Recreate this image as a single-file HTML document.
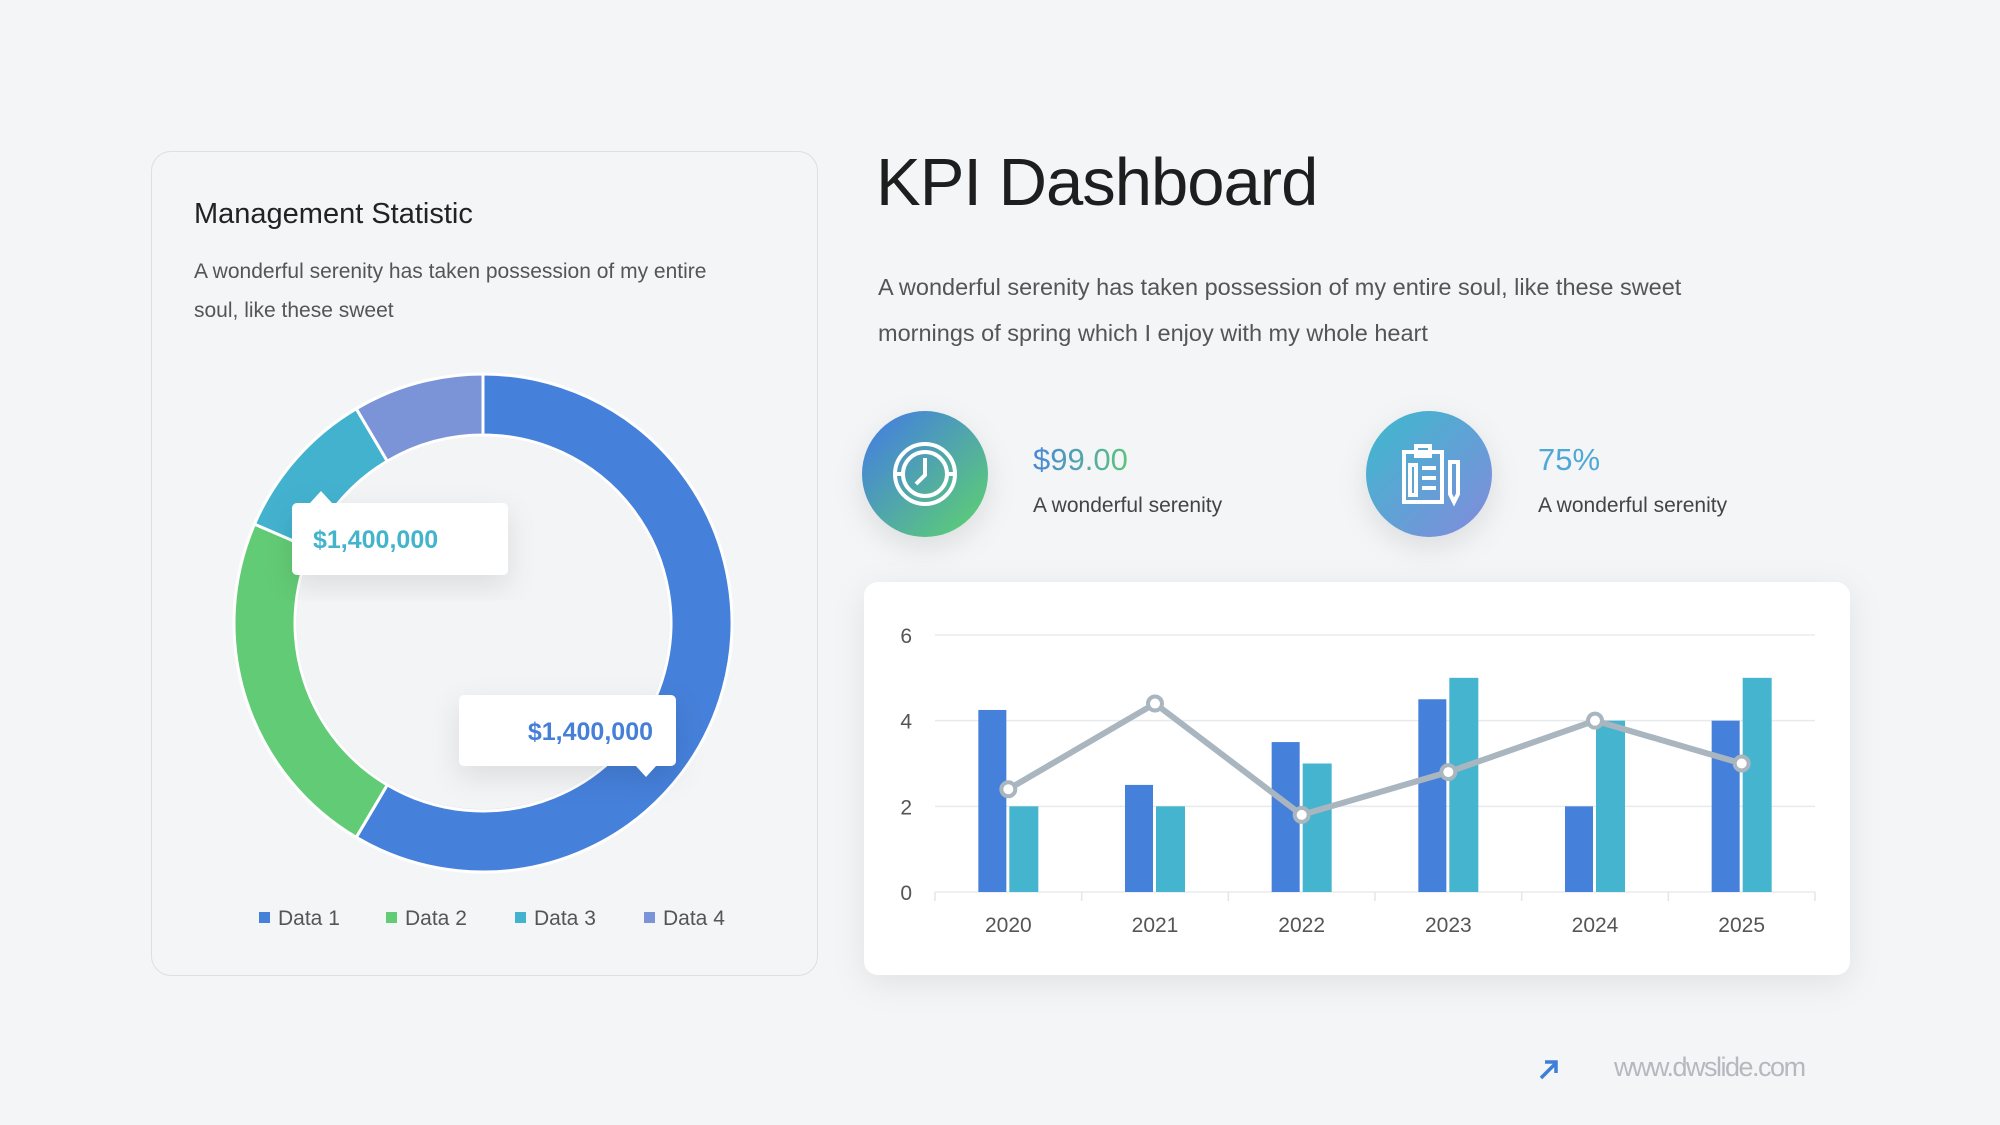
<!DOCTYPE html>
<html><head><meta charset="utf-8"><style>
html,body{margin:0;padding:0;background:#f3f5f7;}
body{width:2000px;height:1125px;overflow:hidden;position:relative;font-family:"Liberation Sans",sans-serif;}
.abs{position:absolute;}
</style></head><body>
<div class="abs" style="left:151px;top:151px;width:665px;height:823px;border:1.5px solid #dcdfe3;border-radius:20px;"></div>
<div class="abs" style="left:194px;top:198px;font-size:29px;color:#222;">Management Statistic</div>
<div class="abs" style="left:194px;top:252px;width:555px;font-size:21px;line-height:39px;color:#555;">A wonderful serenity has taken possession of my entire soul, like these sweet</div>
<div class="abs" style="left:876px;top:144px;font-size:67px;letter-spacing:-1px;color:#1e1e1e;">KPI Dashboard</div>
<div class="abs" style="left:878px;top:264px;width:880px;font-size:23.5px;line-height:46px;color:#555;">A wonderful serenity has taken possession of my entire soul, like these sweet mornings of spring which I enjoy with my whole heart</div>
<div class="abs" style="left:1033px;top:442px;font-size:31px;background:linear-gradient(90deg,#4a86d8,#5cc47c);-webkit-background-clip:text;color:transparent;">$99.00</div>
<div class="abs" style="left:1033px;top:494px;font-size:21px;color:#444;">A wonderful serenity</div>
<div class="abs" style="left:1538px;top:442px;font-size:31px;color:#4fa8d6;">75%</div>
<div class="abs" style="left:1538px;top:494px;font-size:21px;color:#444;">A wonderful serenity</div>
<div class="abs" style="left:1614px;top:1052px;font-size:27px;letter-spacing:-1.5px;color:#b5b9bf;">www.dwslide.com</div>

<svg class="abs" style="left:0;top:0" width="2000" height="1125" id="svg">
<defs>
<linearGradient id="g1" x1="0" y1="0" x2="1" y2="1"><stop offset="0.1" stop-color="#4582dc"/><stop offset="0.9" stop-color="#5ccb78"/></linearGradient>
<linearGradient id="g2" x1="0" y1="0" x2="1" y2="1"><stop offset="0.1" stop-color="#43b5cf"/><stop offset="0.9" stop-color="#7c8fdb"/></linearGradient>
<filter id="sh" x="-30%" y="-30%" width="160%" height="160%"><feDropShadow dx="0" dy="10" stdDeviation="14" flood-color="#000" flood-opacity="0.10"/></filter>
<filter id="sh2" x="-20%" y="-20%" width="140%" height="140%"><feDropShadow dx="0" dy="8" stdDeviation="16" flood-color="#000" flood-opacity="0.08"/></filter>
</defs>
<g>
<circle cx="925" cy="474" r="63" fill="url(#g1)" filter="url(#sh)"/>
<g fill="none" stroke="#fff" stroke-width="4"><circle cx="925" cy="474" r="30"/><circle cx="925" cy="474" r="22"/><path d="M925 458v17l-9 9M895 474h8M947 474h8"/></g>
</g>
<g>
<circle cx="1429" cy="474" r="63" fill="url(#g2)" filter="url(#sh)"/>
<g fill="none" stroke="#fff" stroke-width="4"><rect x="1404" y="452" width="38" height="50"/><rect x="1416" y="446" width="14" height="10"/><rect x="1410" y="465" width="6" height="30"/><path d="M1422 468h14M1422 478h14M1422 488h14M1450 462v32l4 8 4-8v-32z"/></g>
</g>
<g><rect x="864" y="582" width="986" height="393" rx="14" fill="#fff" filter="url(#sh2)"/></g>
<g id="donut"></g>
<g id="bars"></g>
<g filter="url(#sh)">
<path d="M297 503h13l11-12 11 12h171a5 5 0 0 1 5 5v62a5 5 0 0 1-5 5h-206a5 5 0 0 1-5-5v-62a5 5 0 0 1 5-5z" fill="#fff"/>
</g>
<text x="313" y="548" font-size="25" font-weight="bold" fill="#44b3cc">$1,400,000</text>
<g filter="url(#sh)">
<path d="M464 695h207a5 5 0 0 1 5 5v61a5 5 0 0 1-5 5h-15l-10 11-10-11h-172a5 5 0 0 1-5-5v-61a5 5 0 0 1 5-5z" fill="#fff"/>
</g>
<text x="653" y="740" font-size="25" font-weight="bold" fill="#457fd8" text-anchor="end">$1,400,000</text>
<g><path d="M1541 1078l15-15M1545 1062h11v11" stroke="#3d7fd8" stroke-width="3.5" fill="none"/></g>
</svg>
<script>
const donutLabels=["Data 1","Data 2","Data 3","Data 4"];
const donutValues=[58.5,23,10,8.5];
const donutColors=["#4580da","#62cb75","#43b2cf","#7b93d7"];
const years=["2020","2021","2022","2023","2024","2025"];
const seriesA=[4.25,2.5,3.5,4.5,2,4];
const seriesB=[2,2,3,5,4,5];
const lineValues=[2.4,4.4,1.8,2.8,4,3];
const yTicks=[0,2,4,6];
const NS="http://www.w3.org/2000/svg";
function mk(tag,attrs,parent){const e=document.createElementNS(NS,tag);for(const k in attrs)e.setAttribute(k,attrs[k]);parent.appendChild(e);return e;}
const dg=document.getElementById('donut');
const cx=483,cy=623,R=249,r=188;
const inner=mk('circle',{cx:cx,cy:cy,r:r-2,fill:'#f2f4f6',filter:'url(#sh)'},dg);


const tot=donutValues.reduce((a,b)=>a+b,0);
let acc=0;
function pt(rad,a){return [cx+rad*Math.sin(a),cy-rad*Math.cos(a)];}
donutValues.forEach((v,i)=>{
 const a0=acc/tot*2*Math.PI;acc+=v;const a1=acc/tot*2*Math.PI;
 const lg=(a1-a0)>Math.PI?1:0;
 const p0=pt(R,a0),p1=pt(R,a1),q1=pt(r,a1),q0=pt(r,a0);
 const p=mk('path',{d:`M${p0}A${R} ${R} 0 ${lg} 1 ${p1}L${q1}A${r} ${r} 0 ${lg} 0 ${q0}Z`,fill:donutColors[i],stroke:'#fff','stroke-width':3},dg);
 
 
});
const lx=[259,386,515,644];
donutLabels.forEach((l,i)=>{
 const s=mk('rect',{x:lx[i],y:912,width:11,height:11,fill:donutColors[i]},dg);
 
 
 const t=mk('text',{x:lx[i]+19,y:925,'font-size':21,fill:'#555'},dg);t.textContent=l;
 
 
});
const bg=document.getElementById('bars');
const X0=935,X1=1815,Y0=892,Y6=635,yMax=6;
const bw=(X1-X0)/years.length;
const y=v=>Y0-(v/yMax)*(Y0-Y6);
const xc=i=>X0+bw*(i+0.5);
yTicks.forEach(t=>{
 const g=mk('line',{x1:X0,x2:X1,y1:y(t),y2:y(t),stroke:'#e8ebee','stroke-width':1.5},bg);
 
 
 const tl=mk('text',{x:912,y:y(t)+8,'font-size':21,fill:'#555','text-anchor':'end'},bg);tl.textContent=t;
 
 
});
for(let i=0;i<=years.length;i++){
 const tk=mk('line',{x1:X0+bw*i,x2:X0+bw*i,y1:Y0,y2:Y0+9,stroke:'#e3e6ea','stroke-width':1.5},bg);
 
 
}
years.forEach((yr,i)=>{
 const a=mk('rect',{x:xc(i)-30,y:y(seriesA[i]),width:28,height:Y0-y(seriesA[i]),fill:'#4580da'},bg);
 
 
 const b=mk('rect',{x:xc(i)+1,y:y(seriesB[i]),width:29,height:Y0-y(seriesB[i]),fill:'#45b4cf'},bg);
 
 
 const t=mk('text',{x:xc(i),y:932,'font-size':21,fill:'#555','text-anchor':'middle'},bg);t.textContent=yr;
 
 
});
const ln=mk('polyline',{points:lineValues.map((v,i)=>xc(i)+','+y(v)).join(' '),fill:'none',stroke:'#a9b5bf','stroke-width':6,'stroke-linejoin':'round'},bg);


lineValues.forEach((v,i)=>{
 const c=mk('circle',{cx:xc(i),cy:y(v),r:7,fill:'#fff',stroke:'#a9b5bf','stroke-width':4},bg);
 
 
});
</script>
</body></html>
